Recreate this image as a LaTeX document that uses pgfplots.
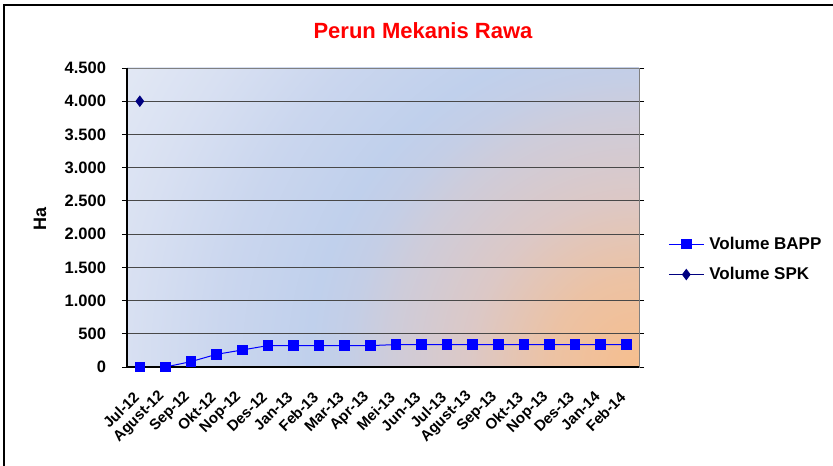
\documentclass[border=0pt]{standalone}
\usepackage{fontspec}
\setmainfont{Liberation Sans}
\usepackage{pgfplots}
\pgfplotsset{compat=1.18}
\definecolor{gridc}{HTML}{484848}
\definecolor{navyc}{HTML}{000080}
\definecolor{bg0}{HTML}{F6BE8E}
\definecolor{bg1}{HTML}{ECC2A4}
\definecolor{bg2}{HTML}{DCC8C6}
\definecolor{bg3}{HTML}{CECCDA}
\definecolor{bg4}{HTML}{C4CEE6}
\definecolor{bg5}{HTML}{C0D0EC}
\definecolor{bg6}{HTML}{CAD6EE}
\definecolor{bg7}{HTML}{D8E0F2}
\definecolor{bg8}{HTML}{E2E8F4}
\pgfdeclareradialshading{plotbg}{\pgfpoint{0bp}{0bp}}{color(0bp)=(bg0); color(3.75bp)=(bg1); color(7.08bp)=(bg2); color(10.42bp)=(bg3); color(12.1bp)=(bg4); color(13.75bp)=(bg5); color(17.5bp)=(bg6); color(21.33bp)=(bg7); color(24.71bp)=(bg8); color(50bp)=(bg8)}
\begin{document}
\begin{tikzpicture}
\useasboundingbox (0,0) rectangle (833pt,466pt);
\fill[white] (0,0) rectangle (833pt,466pt);
\draw[line width=1.5pt] (4pt,-10pt) -- (4pt,461pt) -- (850pt,461pt);
\begin{scope}
\clip (127pt,99pt) rectangle (639pt,398pt);
\shade[shading=plotbg] (639pt,99pt) ++(-600pt,-600pt) rectangle ++(1200pt,1200pt);
\end{scope}
\node[anchor=base, text=red, font=\bfseries\fontsize{22}{23}\selectfont] at (423pt,427pt) {Perun Mekanis Rawa};
\begin{axis}[
  at={(127pt,99pt)}, anchor=south west,
  scale only axis, width=512pt, height=299pt,
  xmin=-0.5, xmax=19.5, ymin=0, ymax=4500,
  clip=false,
  axis line style={draw=gray},
  xtick={0,...,19},
  xticklabels={Jul-12,Agust-12,Sep-12,Okt-12,Nop-12,Des-12,Jan-13,Feb-13,Mar-13,Apr-13,Mei-13,Jun-13,Jul-13,Agust-13,Sep-13,Okt-13,Nop-13,Des-13,Jan-14,Feb-14},
  x tick style={draw=none},
  ytick={0,500,...,4500},
  yticklabels={0,500,1.000,1.500,2.000,2.500,3.000,3.500,4.000,4.500},
  y tick style={draw=black, line width=0.8pt},
  tick align=outside, major tick length=5pt,
  ymajorgrids, grid style={draw=gridc, line width=0.8pt},
  yticklabel style={font=\bfseries\fontsize{16.5}{17}\selectfont, anchor=east, xshift=-12.5pt},
  xticklabel style={anchor=east, font=\bfseries\fontsize{15}{15}\selectfont, xshift=-1pt, yshift=-20pt, rotate=45},
  ylabel={Ha},
  ylabel style={at={(axis description cs:-0.17,0.495)}, anchor=center, rotate=0, font=\bfseries\fontsize{18}{18}\selectfont},
  legend style={at={(1.051,0.36)}, anchor=west, draw=none, fill=none, font=\bfseries\fontsize{17}{17}\selectfont, row sep=12.5pt, cells={anchor=west}},
  legend image code/.code={\draw[mark repeat=2,mark phase=2,#1] plot coordinates {(0pt,0pt) (17.5pt,0pt) (35pt,0pt)}; \path (38pt,0pt);},
]
\addplot[color=blue, line width=1pt, mark=square*, mark size=4.8pt, mark options={fill=blue, draw=blue}] coordinates {
(0,0) (1,0) (2,81) (3,191) (4,256) (5,322) (6,322) (7,322) (8,322) (9,322)
(10,337) (11,337) (12,337) (13,337) (14,337) (15,337) (16,337) (17,337) (18,337) (19,337)};
\addlegendentry{Volume BAPP}
\addplot[color=navyc, line width=1pt, mark=diamond*, mark size=5pt, mark options={fill=navyc}] coordinates {(0,4000)};
\addlegendentry{Volume SPK}
\draw[black, line width=1.2pt] (rel axis cs:0,1) -- (rel axis cs:0,0) -- (rel axis cs:1,0);
\end{axis}
\end{tikzpicture}
\end{document}
